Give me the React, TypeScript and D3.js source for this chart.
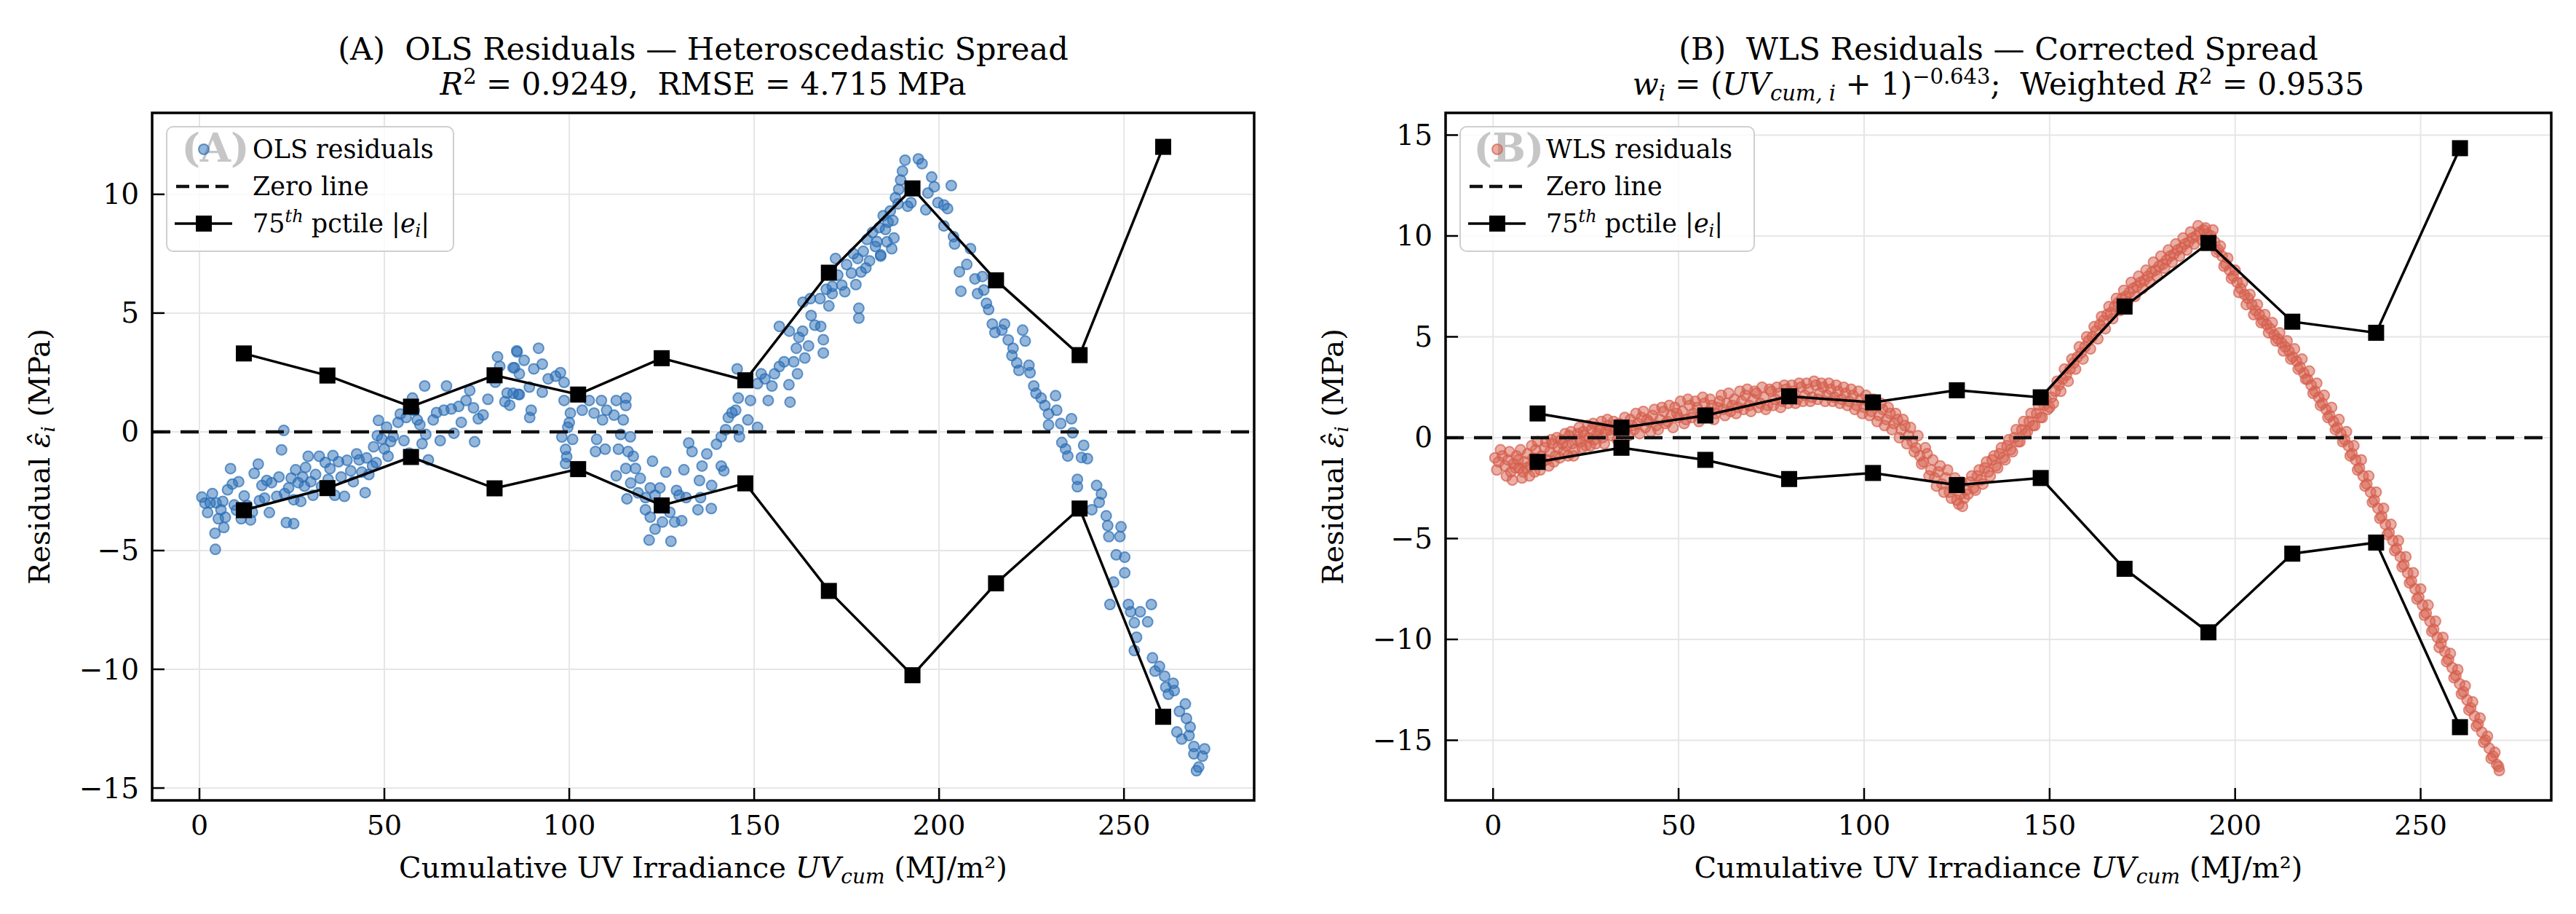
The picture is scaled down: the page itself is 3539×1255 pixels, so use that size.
import * as d3 from "d3"

// Cumulative UV dose bins used for the 75th-percentile envelope
const binCentres = [12, 34.6, 57.2, 79.8, 102.4, 125, 147.6, 170.2, 192.8, 215.4, 238, 260.6]
const olsP75 = [3.3, 2.37, 1.06, 2.38, 1.57, 3.1, 2.17, 6.7, 10.25, 6.38, 3.23, 12.0]
const wlsP75 = [1.2, 0.5, 1.1, 2.05, 1.75, 2.35, 2.0, 6.5, 9.65, 5.75, 5.2, 14.35]

const xTicks = [0, 50, 100, 150, 200, 250]
const olsYTicks = [-15, -10, -5, 0, 5, 10]
const wlsYTicks = [-15, -10, -5, 0, 5, 10, 15]

// OLS residuals: [UV_cum, residual]
const olsResiduals: [number, number][] = [
  [0.65, -2.75], [1.5, -3.0], [2.9, -2.99], [4.5, -2.99], [6.3, -2.93], [5.8, -3.28], [5.1, -3.66],
  [4.2, -4.27], [6.6, -4.03], [4.3, -4.95], [7.6, -2.44], [8.4, -1.55], [10.6, -2.1], [9.4, -3.08],
  [11.3, -3.66], [13.8, -3.71], [14.3, -3.38], [14.8, -1.75], [15.9, -1.36], [16.9, -2.26], [18.2, -2.05],
  [19.5, -2.14], [17.6, -2.79], [20.9, -2.72], [22.8, 0.06], [22.2, -0.76], [23.5, -3.82], [25.5, -3.87],
  [24.1, -2.36], [24.8, -1.95], [26.7, -2.14], [27.4, -2.93], [25.5, -2.86], [28.7, -1.5], [29.4, -1.03],
  [28.4, -2.29], [30.7, -2.67], [31.4, -1.8], [32.4, -1.03], [34.0, -1.29], [35.3, -1.55], [37.6, -1.26],
  [36.6, -2.67], [39.2, -2.72], [40.9, -1.64], [42.5, -0.93], [43.2, -1.18], [44.8, -2.56], [45.8, -1.8],
  [46.8, -1.44], [47.1, -0.63], [48.4, 0.48], [48.1, -0.16], [50.0, -0.72], [51.0, -1.03], [51.7, -0.41],
  [53.7, 0.4], [55.3, -0.37], [57.6, 1.42], [54.3, 0.75], [58.9, 0.5], [59.6, 0.3], [60.9, 1.93],
  [61.2, -0.11], [61.9, -1.18], [63.2, 0.5], [64.1, 0.81], [65.1, -0.37], [66.8, 1.93], [66.1, 0.91],
  [68.1, 0.96], [68.8, -0.06], [70.1, 1.07], [70.8, 0.4], [72.1, 1.32], [73.1, 1.74], [74.1, 1.01],
  [74.4, -0.42], [75.4, 0.55], [76.7, 0.71], [78.0, 1.37], [80.0, 2.09], [82.6, 1.27], [83.2, 1.63],
  [83.9, 1.12], [85.2, 2.7], [86.2, 1.58], [80.6, 3.16], [81.2, 2.76], [85.9, 3.36],
  [85.8, 3.41], [91.7, 3.52], [87.8, 3.01], [84.8, 2.7], [90.4, 2.65], [92.7, 2.85], [86.5, 2.44],
  [84.8, 1.62], [86.5, 1.57], [89.2, 1.88], [92.7, 1.67], [89.7, 0.91], [89.3, 0.6], [94.3, 2.23],
  [96.3, 2.34], [97.6, 2.49], [98.6, 2.08], [98.6, 1.32], [100.3, 0.79], [100.0, 0.39], [99.6, 0.19],
  [98.0, -0.22], [99.0, -0.74], [99.3, -1.05], [99.0, -1.34], [100.9, -0.32], [103.5, 0.91], [105.4, 1.32],
  [106.7, 0.79], [108.7, 1.32], [109.0, 0.5], [107.4, -0.32], [107.1, -0.83], [109.7, -0.73], [110.1, 0.91],
  [112.1, 0.7], [112.7, 1.32], [115.3, 1.42], [114.6, 0.5], [115.3, 1.11], [113.9, -0.11], [116.5, -0.21],
  [113.3, -0.73], [115.9, -0.83], [117.3, -1.03], [112.7, -1.85], [115.3, -1.54], [117.9, -1.54],
  [119.2, -1.96], [116.6, -2.16], [115.6, -2.82], [118.6, -2.57], [120.6, -2.77], [122.5, -1.24],
  [121.9, -2.36], [123.2, -2.67], [124.5, -2.36], [120.6, -3.28], [121.9, -3.59], [123.2, -4.1],
  [125.2, -3.8], [127.2, -3.39], [128.5, -3.8], [130.4, -3.74], [121.6, -4.56], [127.5, -4.61],
  [126.1, -1.7], [129.0, -2.47], [131.0, -1.6], [129.7, -2.67], [131.6, -2.77], [134.8, -3.28],
  [135.5, -2.77], [138.4, -3.23], [132.3, -0.47], [133.2, -0.83], [135.2, -2.05], [135.9, -1.44],
  [137.2, -0.93], [138.5, -2.26], [139.8, -0.52], [141.1, -1.44], [141.8, -1.64], [141.1, -0.21],
  [142.3, 0.09], [143.0, 0.6], [144.0, 0.81], [145.0, 0.91], [145.7, 0.09], [146.0, -0.21], [145.4, 2.65],
  [145.7, 1.42], [148.3, 0.5], [149.0, 1.32], [150.9, 0.19], [150.9, 2.03], [151.9, 2.44], [152.9, 2.23],
  [153.8, 1.32], [154.8, 1.93], [155.5, 2.44], [156.8, 2.75], [158.1, 2.95], [159.4, 1.98], [159.7, 1.25],
  [160.7, 2.95], [161.7, 2.44], [161.4, 3.52], [163.7, 3.11], [164.7, 3.62], [162.1, 3.98], [163.1, 4.24],
  [159.5, 4.24], [156.8, 4.44], [165.4, 4.9], [166.4, 4.49], [168.0, 4.44], [168.7, 3.88], [168.7, 3.32],
  [163.2, 5.46], [165.2, 5.61], [167.8, 5.61], [171.1, 5.82], [171.1, 6.12], [173.7, 6.18], [175.0, 7.04],
  [176.3, 6.68], [178.9, 6.73], [178.0, 7.3], [178.3, 5.2], [178.3, 4.79], [184.2, 7.4],
  [179.5, 7.6], [180.5, 8.1], [181.2, 7.2], [182.0, 8.4], [182.8, 7.8], [183.8, 8.6], [184.9, 9.1],
  [185.9, 8.0], [186.8, 9.3], [187.5, 8.9], [188.9, 9.6], [189.6, 10.6], [180.2, 6.9], [176.8, 7.5],
  [177.5, 6.2], [174.5, 5.9], [172.6, 6.6], [170.2, 5.3], [169.5, 6.0], [172.0, 7.3],
  [190.8, 11.44], [194.4, 11.49], [195.4, 11.29], [190.1, 10.98], [198.0, 10.73], [189.1, 10.21],
  [198.7, 10.32], [197.0, 10.06], [188.2, 9.86], [191.5, 9.5], [192.4, 9.65], [196.4, 9.35], [199.7, 9.65],
  [201.3, 9.55], [202.3, 9.4], [203.3, 10.37], [186.2, 8.83], [185.5, 8.52], [187.8, 8.16], [183.2, 8.01],
  [184.2, 7.45], [187.2, 7.71], [201.3, 8.67], [203.9, 8.22], [204.2, 7.91], [208.5, 7.71], [207.5, 7.05],
  [205.5, 6.74], [209.7, 6.44], [211.7, 6.54], [205.9, 5.92], [210.4, 5.82], [212.1, 5.97], [212.8, 5.41],
  [213.4, 5.15], [214.4, 4.54], [215.1, 4.18], [217.7, 4.54], [217.0, 4.28], [222.6, 4.28], [223.3, 3.82],
  [218.7, 3.87], [220.0, 3.52], [219.7, 3.21], [221.0, 2.9], [221.6, 2.59], [224.3, 2.8], [224.6, 2.49],
  [225.6, 1.93], [226.2, 1.62], [227.6, 1.42], [228.6, 1.11], [231.5, 1.52], [231.8, 0.91], [229.6, 0.76],
  [232.9, 0.35], [229.6, 0.29], [235.8, 0.55], [236.1, -0.04], [233.2, -0.45], [234.2, -0.72],
  [234.8, -1.02], [239.1, -0.57], [238.5, -1.08], [240.1, -1.13], [237.4, -2.0], [242.6, -2.26],
  [237.4, -2.31], [243.9, -2.62], [243.3, -2.97], [241.3, -3.28], [245.2, -3.54], [245.6, -3.95],
  [249.2, -4.0], [245.9, -4.41], [248.9, -4.41], [247.9, -5.18], [250.2, -5.28], [250.2, -5.94],
  [247.2, -6.33], [246.2, -7.27], [251.2, -7.27], [251.8, -7.58], [254.4, -7.58], [257.4, -7.27],
  [256.4, -8.0], [252.8, -8.04], [253.4, -8.65], [252.8, -9.21], [257.7, -9.52], [259.6, -9.88],
  [258.4, -10.08], [261.0, -10.29], [263.3, -10.59], [261.3, -10.75], [263.6, -10.9], [262.0, -11.05],
  [266.6, -11.46], [265.0, -11.77], [266.9, -12.07], [267.9, -12.43], [264.3, -12.64], [265.6, -12.94],
  [267.6, -12.79], [268.9, -13.25], [271.8, -13.35], [268.9, -13.56], [271.2, -13.66], [270.2, -14.12],
  [269.6, -14.27],
  [2.2, -3.4], [3.5, -2.6], [7.0, -3.6], [8.9, -2.2], [10.0, -3.3], [12.1, -2.7], [12.9, -3.1],
  [16.2, -2.9], [18.9, -3.4], [21.5, -1.9], [23.0, -2.6], [26.0, -1.6], [27.9, -1.9], [30.1, -2.1],
  [33.0, -2.3], [34.8, -2.0], [36.1, -1.0], [38.3, -1.9], [39.9, -1.2], [41.6, -2.1], [43.9, -1.7],
  [45.2, -1.1], [47.8, -1.3], [49.3, -0.3], [50.6, 0.2], [52.4, -0.2], [55.9, 0.6], [56.7, -0.9],
  [58.1, 0.9], [60.2, -0.5],
]

// WLS residuals: [UV_cum, weighted residual]
const wlsResiduals: [number, number][] = [
  [0.5, -1.0], [1.5, -1.2], [2.5, -0.9], [3.2, -1.4], [4.0, -1.1], [4.8, -1.7], [5.5, -1.3], [6.3, -0.9],
  [7.0, -1.5], [7.8, -2.0], [8.5, -1.2], [9.3, -0.8], [10.0, -1.4], [10.8, -1.0], [11.5, -0.6], [12.3, -1.3],
  [13.0, -0.9], [13.8, -0.5], [14.5, -1.1], [15.3, -0.7], [16.0, -0.3], [16.8, -0.9], [17.5, -0.5],
  [18.3, -0.1], [19.0, -0.7], [19.8, -0.4], [20.5, 0.1], [21.3, -0.3], [22.0, -0.6], [22.8, 0.2],
  [23.5, -0.2], [24.3, 0.3], [25.0, -0.4], [25.8, 0.0], [26.5, 0.4], [27.3, -0.1], [28.0, 0.2], [28.8, 0.5],
  [29.5, 0.0], [30.3, 0.3], [31.0, 0.6], [32.0, 0.1], [33.0, 0.4], [34.0, 0.7], [35.0, 0.2], [36.0, 0.5],
  [37.0, 0.9], [38.0, 0.4], [39.0, 0.7], [40.0, 1.0], [41.0, 0.5], [42.0, 0.8], [43.0, 1.1], [44.0, 0.6],
  [45.0, 0.9], [46.0, 1.3], [47.0, 0.8], [48.0, 1.1], [49.0, 1.5], [50.0, 1.0], [51.0, 1.3], [52.0, 0.9],
  [53.0, 1.6], [54.0, 1.2], [55.0, 1.5], [56.0, 1.1], [57.0, 1.7], [58.0, 1.3], [59.0, 1.6], [60.0, 1.2],
  [61.0, 1.8], [62.0, 1.4], [63.0, 1.7], [64.0, 1.3], [65.0, 1.9], [66.0, 1.5], [67.0, 1.8], [68.0, 2.1],
  [69.0, 1.6], [70.0, 1.9], [71.0, 2.2], [72.0, 1.7], [73.0, 2.0], [74.0, 1.6], [75.0, 2.3], [76.0, 1.9],
  [77.0, 2.2], [78.0, 1.8], [79.0, 2.4], [80.0, 2.0], [81.0, 2.3], [82.0, 1.9], [83.0, 2.5], [84.0, 2.1],
  [85.0, 2.4], [86.0, 2.0], [87.0, 2.6], [88.0, 2.2], [89.0, 2.5], [90.0, 2.1], [91.0, 2.4], [92.0, 2.0],
  [93.0, 2.3], [94.0, 1.9], [95.0, 2.2], [96.0, 1.8], [97.0, 2.1], [98.0, 1.6], [99.0, 1.9], [100.0, 1.5],
  [101.0, 1.8], [102.0, 1.3], [103.0, 1.6], [104.0, 1.1], [105.0, 1.4], [106.0, 0.9], [107.0, 1.2],
  [108.0, 0.7], [109.0, 0.9], [110.0, 0.4], [111.0, 0.6], [112.0, 0.1], [113.0, -0.2], [114.0, -0.5],
  [115.0, -0.9], [116.0, -1.2], [117.0, -0.8], [118.0, -1.6], [119.0, -2.0], [120.0, -1.7], [121.0, -2.3],
  [122.0, -2.0], [123.0, -2.7], [124.0, -2.4], [125.0, -3.1], [126.0, -2.8], [126.5, -3.4], [127.5, -2.6],
  [128.5, -2.2], [129.5, -2.5], [130.5, -1.9], [131.5, -2.1], [132.5, -1.5], [133.5, -1.7], [134.5, -1.1],
  [135.5, -1.4], [136.5, -0.8], [137.5, -1.0], [138.5, -0.4], [139.5, -0.6], [140.5, 0.0], [141.5, -0.2],
  [142.5, 0.4], [143.5, 0.2], [144.5, 0.8], [145.5, 0.6], [146.5, 1.2], [147.5, 1.0], [148.5, 1.6],
  [149.5, 1.4], [150.5, 2.0], [151.5, 2.3], [152.5, 2.6], [153.5, 2.9], [154.5, 3.1], [155.5, 3.4],
  [156.5, 3.7], [157.5, 4.0], [158.5, 4.2], [159.5, 4.5], [160.5, 4.8], [161.5, 5.0], [162.5, 5.3],
  [163.5, 5.6], [164.5, 5.8], [165.5, 6.1], [166.5, 6.2], [167.5, 6.5], [168.5, 6.7], [169.5, 6.9],
  [170.5, 7.0], [171.5, 7.2], [172.5, 7.4], [173.5, 7.5], [174.5, 7.7], [175.5, 7.8], [176.5, 8.0],
  [177.5, 8.2], [178.5, 8.3], [179.5, 8.5], [180.5, 8.6], [181.5, 8.8], [182.5, 9.0], [183.5, 9.1],
  [184.5, 9.3], [185.5, 9.4], [186.5, 9.6], [187.5, 9.7], [188.5, 9.9], [189.5, 10.0], [190.5, 10.2],
  [191.5, 10.3], [192.5, 10.1], [193.5, 10.0], [194.5, 9.7], [195.5, 9.3], [196.5, 9.0], [197.5, 8.6],
  [198.5, 8.3], [199.5, 8.0], [200.5, 7.7], [201.5, 7.4], [202.5, 7.1], [203.5, 6.9], [204.5, 6.6],
  [205.5, 6.3], [206.5, 6.1], [207.5, 5.8], [208.5, 5.6], [209.5, 5.4], [210.5, 5.1], [211.5, 4.9],
  [212.5, 4.7], [213.5, 4.5], [214.5, 4.3], [215.5, 4.0], [216.5, 3.8], [217.5, 3.5], [218.5, 3.2],
  [219.5, 2.9], [220.5, 2.6], [221.5, 2.3], [222.5, 2.0], [223.5, 1.7], [224.5, 1.4], [225.5, 1.1],
  [226.5, 0.8], [227.5, 0.5], [228.5, 0.2], [229.5, -0.1], [230.5, -0.4], [231.5, -0.8], [232.5, -1.1],
  [233.5, -1.5], [234.5, -1.9], [235.5, -2.3], [236.5, -2.7], [237.5, -3.1], [238.5, -3.5], [239.5, -3.9],
  [240.5, -4.3], [241.5, -4.7], [242.5, -5.1], [243.5, -5.5], [244.5, -5.9], [245.5, -6.3], [246.5, -6.7],
  [247.5, -7.1], [248.5, -7.5], [249.5, -7.9], [250.5, -8.3], [251.5, -8.7], [252.5, -9.1], [253.5, -9.5],
  [254.5, -9.9], [255.5, -10.2], [256.5, -10.6], [257.5, -11.0], [258.5, -11.4], [259.5, -11.8],
  [260.5, -12.2], [261.5, -12.6], [262.5, -13.0], [263.5, -13.4], [264.5, -13.8], [265.5, -14.2],
  [266.5, -14.6], [267.5, -15.0], [268.5, -15.4], [269.5, -15.8], [270.5, -16.2], [271.2, -16.5],
  [1.0, -1.6], [2.0, -0.6], [3.6, -1.9], [4.4, -0.7], [5.2, -2.1], [6.0, -1.5], [6.8, -1.1], [7.4, -0.6],
  [8.1, -1.7], [9.0, -1.5], [9.8, -1.9], [10.4, -0.4], [11.2, -1.7], [12.0, -0.2], [12.7, -1.6],
  [13.4, -1.2], [14.2, -0.2], [15.0, -1.4], [15.7, -0.1], [16.4, -1.2], [17.2, 0.0], [18.0, -1.0],
  [18.7, -0.3], [19.4, 0.2], [20.2, -0.9], [21.0, 0.3], [21.7, -0.9], [22.5, -0.1], [23.2, 0.5],
  [24.0, -0.5], [24.7, 0.1], [25.5, 0.6], [26.2, -0.4], [27.0, 0.7], [27.7, -0.3], [28.5, 0.4], [29.2, 0.8],
  [30.0, -0.3], [30.8, 0.9], [31.6, 0.4], [32.5, 0.8], [33.5, -0.1], [34.5, 0.5], [35.5, 1.0], [36.5, 0.1],
  [37.5, 0.6], [38.5, 1.2], [39.5, 0.2], [40.5, 1.3], [41.5, 0.9], [42.5, 0.3], [43.5, 1.4], [44.5, 0.4],
  [45.5, 1.5], [46.5, 0.7], [47.5, 1.6], [48.5, 0.5], [49.5, 1.2], [50.5, 1.8], [51.5, 0.7], [52.5, 1.9],
  [53.5, 1.0], [54.5, 1.8], [55.5, 0.8], [56.5, 2.0], [57.5, 1.0], [58.5, 1.9], [59.5, 0.9], [60.5, 1.5],
  [61.5, 2.1], [62.5, 1.1], [63.5, 2.2], [64.5, 1.6], [65.5, 1.2], [66.5, 2.3], [67.5, 1.4], [68.5, 2.4],
  [69.5, 1.3], [70.5, 2.3], [71.5, 1.5], [72.5, 2.5], [73.5, 1.4], [74.5, 2.4], [75.5, 1.6], [76.5, 2.5],
  [77.5, 1.5], [78.5, 2.6], [79.5, 1.7], [80.5, 2.6], [81.5, 1.7], [82.5, 2.7], [83.5, 1.8], [84.5, 2.7],
  [85.5, 1.8], [86.5, 2.8], [87.5, 1.9], [88.5, 2.7], [89.5, 1.8], [90.5, 2.7], [91.5, 1.8], [92.5, 2.6],
  [93.5, 1.7], [94.5, 2.5], [95.5, 1.6], [96.5, 2.4], [97.5, 1.4], [98.5, 2.3], [99.5, 1.2], [100.5, 2.1],
  [101.5, 1.1], [102.5, 1.9], [103.5, 0.8], [104.5, 1.7], [105.5, 0.6], [106.5, 1.5], [107.5, 0.4],
  [108.5, 1.2], [109.5, 0.0], [110.5, 0.9], [111.5, -0.3], [112.5, 0.5], [113.5, -0.7], [114.5, 0.1],
  [115.5, -1.3], [116.5, -0.5], [117.5, -1.9], [118.5, -1.1], [119.5, -2.4], [120.5, -1.4], [121.5, -2.7],
  [122.5, -1.6], [123.5, -3.0], [124.5, -2.0], [125.5, -3.3], [126.3, -2.2], [127.0, -3.0], [128.0, -2.8],
  [129.0, -1.9], [130.0, -2.6], [131.0, -1.6], [132.0, -2.3], [133.0, -1.2], [134.0, -1.9], [135.0, -0.9],
  [136.0, -1.5], [137.0, -0.5], [138.0, -1.1], [139.0, -0.1], [140.0, -0.7], [141.0, 0.4], [142.0, -0.2],
  [143.0, 0.8], [144.0, 0.3], [145.0, 1.2], [146.0, 0.6], [147.0, 1.6], [148.0, 1.0], [149.0, 1.9],
  [150.0, 1.5],
  [151.0, 1.7], [152.0, 2.8], [153.0, 2.3], [154.0, 3.4], [155.0, 2.8], [156.0, 3.9], [157.0, 3.4],
  [158.0, 4.5], [159.0, 3.9], [160.0, 5.0], [161.0, 4.4], [162.0, 5.5], [163.0, 4.9], [164.0, 6.0],
  [165.0, 5.4], [166.0, 6.5], [167.0, 5.9], [168.0, 6.9], [169.0, 6.3], [170.0, 7.3], [171.0, 6.7],
  [172.0, 7.7], [173.0, 7.0], [174.0, 8.0], [175.0, 7.4], [176.0, 8.3], [177.0, 7.7], [178.0, 8.7],
  [179.0, 8.0], [180.0, 9.0], [181.0, 8.4], [182.0, 9.3], [183.0, 8.7], [184.0, 9.6], [185.0, 9.0],
  [186.0, 9.9], [187.0, 9.3], [188.0, 10.2], [189.0, 9.6], [190.0, 10.5], [191.0, 9.8], [192.0, 10.4],
  [193.0, 9.7],
  [194.0, 10.3], [195.0, 9.2], [196.0, 9.5], [197.0, 8.5], [198.0, 8.9], [199.0, 7.9], [200.0, 8.3],
  [201.0, 7.2], [202.0, 7.7], [203.0, 6.6], [204.0, 7.1], [205.0, 6.1], [206.0, 6.6], [207.0, 5.7],
  [208.0, 6.1], [209.0, 5.2], [210.0, 5.7], [211.0, 4.8], [212.0, 5.2], [213.0, 4.3], [214.0, 4.8],
  [215.0, 3.9], [216.0, 4.4], [217.0, 3.4], [218.0, 3.9], [219.0, 2.9], [220.0, 3.3], [221.0, 2.2],
  [222.0, 2.7], [223.0, 1.6], [224.0, 2.1], [225.0, 1.0], [226.0, 1.5], [227.0, 0.4], [228.0, 0.9],
  [229.0, -0.2], [230.0, 0.3], [231.0, -0.9], [232.0, -0.4], [233.0, -1.6], [234.0, -1.1], [235.0, -2.4],
  [236.0, -1.9], [237.0, -3.2], [238.0, -2.7], [239.0, -4.0], [240.0, -3.5], [241.0, -4.8], [242.0, -4.3],
  [243.0, -5.6], [244.0, -5.1], [245.0, -6.4], [246.0, -5.9], [247.0, -7.2], [248.0, -6.7], [249.0, -8.0],
  [250.0, -7.5], [251.0, -8.8], [252.0, -8.3], [253.0, -9.6], [254.0, -9.1], [255.0, -10.4],
  [256.0, -9.9], [257.0, -11.1], [258.0, -10.7], [259.0, -11.9], [260.0, -11.5], [261.0, -12.7],
  [262.0, -12.3], [263.0, -13.5], [264.0, -13.1], [265.0, -14.3], [266.0, -13.9], [267.0, -15.1],
  [268.0, -14.8], [269.0, -15.9], [270.0, -15.6], [271.0, -16.3],
]

const FONT = "'DejaVu Serif', serif"
const TOP = 155
const BOTTOM = 1099
const GRID = "#e6e6e6"

const fmtTick = (t: number) => (t < 0 ? "\u2212" + Math.abs(t) : String(t))

type PanelProps = {
  tag: string
  left: number
  right: number
  yDomain: [number, number]
  yTicks: number[]
  points: [number, number][]
  band: number[]
  color: string
  seriesLabel: string
  legendWidth: number
  title: string
  subtitle: React.ReactNode
}

function Panel(p: PanelProps) {
  const x = d3.scaleLinear().domain([-12.8, 285.2]).range([p.left, p.right])
  const y = d3.scaleLinear().domain(p.yDomain).range([BOTTOM, TOP])
  const upper = d3.line<number>().x((_, i) => x(binCentres[i])).y((v) => y(v))
  const lower = d3.line<number>().x((_, i) => x(binCentres[i])).y((v) => y(-v))
  const mid = (p.left + p.right) / 2
  const clipId = `clip-${p.tag}`
  const lx = p.left + 20
  const rows = [205, 256, 307]

  return (
    <g>
      <defs>
        <clipPath id={clipId}>
          <rect x={p.left} y={TOP} width={p.right - p.left} height={BOTTOM - TOP} />
        </clipPath>
      </defs>

      {/* grid */}
      {xTicks.map((t) => (
        <line key={"gx" + t} x1={x(t)} x2={x(t)} y1={TOP} y2={BOTTOM} stroke={GRID} strokeWidth={2} />
      ))}
      {p.yTicks.map((t) => (
        <line key={"gy" + t} x1={p.left} x2={p.right} y1={y(t)} y2={y(t)} stroke={GRID} strokeWidth={2} />
      ))}

      <g clipPath={`url(#${clipId})`}>
        {p.points.map(([a, b], i) => (
          <circle
            key={i}
            cx={x(a)}
            cy={y(b)}
            r={7}
            fill={p.color}
            fillOpacity={0.5}
            stroke={p.color}
            strokeOpacity={0.7}
            strokeWidth={2}
          />
        ))}
        <line
          x1={p.left}
          x2={p.right}
          y1={y(0)}
          y2={y(0)}
          stroke="#111"
          strokeWidth={4.5}
          strokeDasharray="25,14"
        />
        <path d={upper(p.band) ?? ""} fill="none" stroke="#000" strokeWidth={3.5} />
        <path d={lower(p.band) ?? ""} fill="none" stroke="#000" strokeWidth={3.5} />
        {p.band.map((v, i) => (
          <g key={"m" + i}>
            <rect x={x(binCentres[i]) - 11} y={y(v) - 11} width={22} height={22} fill="#000" />
            <rect x={x(binCentres[i]) - 11} y={y(-v) - 11} width={22} height={22} fill="#000" />
          </g>
        ))}
      </g>

      {/* spines */}
      <rect
        x={p.left}
        y={TOP}
        width={p.right - p.left}
        height={BOTTOM - TOP}
        fill="none"
        stroke="#000"
        strokeWidth={3.5}
      />

      {/* ticks */}
      {xTicks.map((t) => (
        <g key={"tx" + t}>
          <line x1={x(t)} x2={x(t)} y1={BOTTOM} y2={BOTTOM - 17} stroke="#000" strokeWidth={2.5} />
          <text x={x(t)} y={BOTTOM + 47} textAnchor="middle" fontSize={38}>
            {fmtTick(t)}
          </text>
        </g>
      ))}
      {p.yTicks.map((t) => (
        <g key={"ty" + t}>
          <line x1={p.left} x2={p.left + 17} y1={y(t)} y2={y(t)} stroke="#000" strokeWidth={2.5} />
          <text x={p.left - 18} y={y(t)} textAnchor="end" dominantBaseline="central" fontSize={39}>
            {fmtTick(t)}
          </text>
        </g>
      ))}

      {/* axis labels */}
      <text x={mid} y={1205} textAnchor="middle" fontSize={40} style={{ whiteSpace: "pre" }}>
        {"Cumulative UV Irradiance "}
        <tspan fontStyle="italic">UV</tspan>
        <tspan fontStyle="italic" fontSize={28} dy={8}>cum</tspan>
        <tspan dy={-8}>{" (MJ/m²)"}</tspan>
      </text>
      <text
        transform={`translate(${p.left - 141},${(TOP + BOTTOM) / 2}) rotate(-90)`}
        textAnchor="middle"
        fontSize={40}
        style={{ whiteSpace: "pre" }}
      >
        {"Residual "}
        <tspan fontStyle="italic">{"\u03b5\u0302"}</tspan>
        <tspan fontStyle="italic" fontSize={26} dy={7}>i</tspan>
        <tspan dy={-7}>{" (MPa)"}</tspan>
      </text>

      {/* legend */}
      <rect
        x={lx}
        y={174}
        width={p.legendWidth}
        height={171}
        rx={9}
        fill="#fff"
        fillOpacity={0.8}
        stroke="#cfcfcf"
        strokeWidth={2}
      />
      <text x={lx + 67} y={rows[0] + 17} textAnchor="middle" fontSize={54} fontWeight="bold" fill="#c6c6c6">
        ({p.tag})
      </text>
      <circle
        cx={lx + 51}
        cy={rows[0]}
        r={7}
        fill={p.color}
        fillOpacity={0.5}
        stroke={p.color}
        strokeOpacity={0.7}
        strokeWidth={2}
      />
      <line
        x1={lx + 13}
        x2={lx + 86}
        y1={rows[1]}
        y2={rows[1]}
        stroke="#111"
        strokeWidth={4.5}
        strokeDasharray="18,9"
      />
      <line x1={lx + 11} x2={lx + 90} y1={rows[2]} y2={rows[2]} stroke="#000" strokeWidth={3.5} />
      <rect x={lx + 40} y={rows[2] - 11} width={22} height={22} fill="#000" />
      <g fontSize={35} style={{ whiteSpace: "pre" }}>
        <text x={lx + 118} y={rows[0] + 12}>{p.seriesLabel}</text>
        <text x={lx + 118} y={rows[1] + 12}>Zero line</text>
        <text x={lx + 118} y={rows[2] + 12}>
          {"75"}
          <tspan fontStyle="italic" fontSize={24} dy={-14}>th</tspan>
          <tspan dy={14}>{" pctile |"}</tspan>
          <tspan fontStyle="italic">e</tspan>
          <tspan fontStyle="italic" fontSize={24} dy={6}>i</tspan>
          <tspan dy={-6}>|</tspan>
        </text>
      </g>

      {/* title */}
      <text x={mid} y={82} textAnchor="middle" fontSize={43} style={{ whiteSpace: "pre" }}>
        {p.title}
      </text>
      <text x={mid} y={130} textAnchor="middle" fontSize={42} style={{ whiteSpace: "pre" }}>
        {p.subtitle}
      </text>
    </g>
  )
}

export default function App() {
  return (
    <svg
      width={3539}
      height={1255}
      style={{ position: "absolute", left: 0, top: 0, background: "#fff" }}
      fontFamily={FONT}
    >
      <rect width={3539} height={1255} fill="#fff" />
      <Panel
        tag="A"
        left={209}
        right={1723}
        yDomain={[-15.52, 13.43]}
        yTicks={olsYTicks}
        points={olsResiduals}
        band={olsP75}
        color="#2a6db5"
        seriesLabel="OLS residuals"
        legendWidth={394}
        title={"(A)  OLS Residuals \u2014 Heteroscedastic Spread"}
        subtitle={
          <>
            <tspan fontStyle="italic">R</tspan>
            <tspan fontSize={29} dy={-15}>2</tspan>
            <tspan dy={15}>{" = 0.9249,  RMSE = 4.715 MPa"}</tspan>
          </>
        }
      />
      <Panel
        tag="B"
        left={1986}
        right={3505}
        yDomain={[-17.98, 16.1]}
        yTicks={wlsYTicks}
        points={wlsResiduals}
        band={wlsP75}
        color="#d6604d"
        seriesLabel="WLS residuals"
        legendWidth={404}
        title={"(B)  WLS Residuals \u2014 Corrected Spread"}
        subtitle={
          <>
            <tspan fontStyle="italic">w</tspan>
            <tspan fontStyle="italic" fontSize={29} dy={8}>i</tspan>
            <tspan dy={-8}>{" = ("}</tspan>
            <tspan fontStyle="italic">UV</tspan>
            <tspan fontStyle="italic" fontSize={29} dy={8}>{"cum, i"}</tspan>
            <tspan dy={-8}>{" + 1)"}</tspan>
            <tspan fontSize={29} dy={-15}>{"\u22120.643"}</tspan>
            <tspan dy={15}>{";  Weighted "}</tspan>
            <tspan fontStyle="italic">R</tspan>
            <tspan fontSize={29} dy={-15}>2</tspan>
            <tspan dy={15}>{" = 0.9535"}</tspan>
          </>
        }
      />
    </svg>
  )
}
